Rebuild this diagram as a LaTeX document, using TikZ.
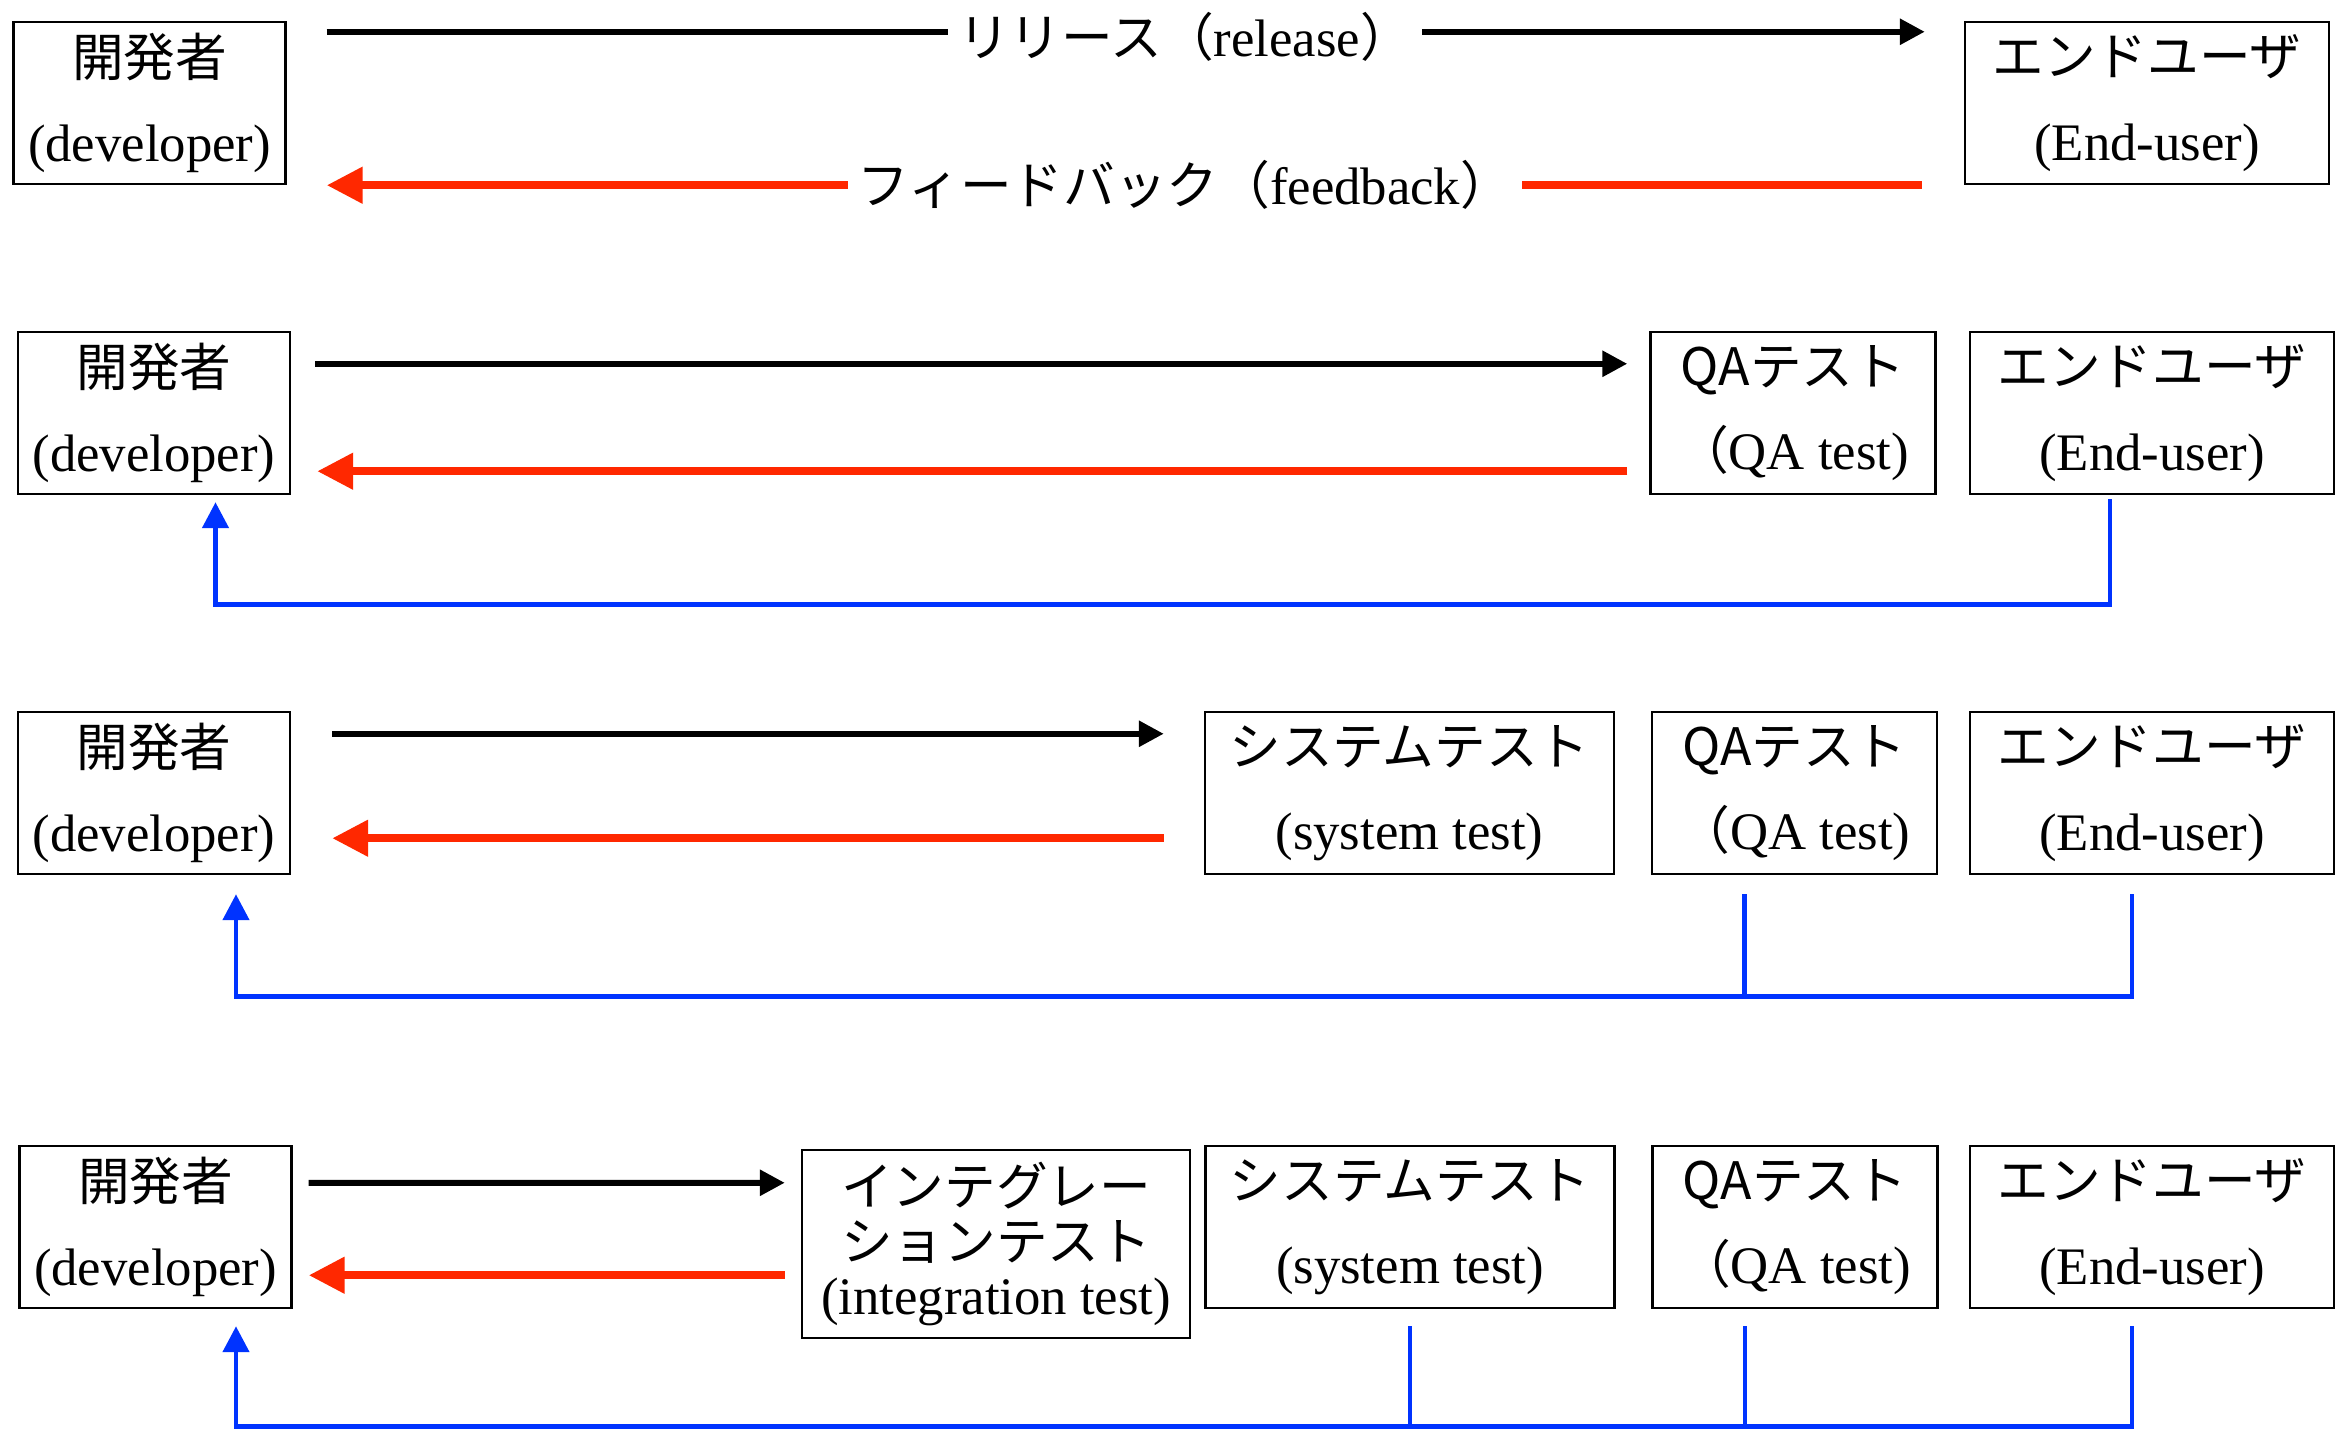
\documentclass[tikz,border=0pt]{standalone}
\usepackage{fontspec}
\setmainfont{Liberation Serif}
\newfontfamily\cjk[Scale=0.98]{Noto Sans CJK JP}
\usepackage{tikz}
\usetikzlibrary{arrows.meta}
\definecolor{fbred}{RGB}{255,40,0}
\definecolor{fbblue}{RGB}{0,51,255}

\begin{document}
\begin{tikzpicture}[
    box/.style={rectangle, draw, line width=0.7pt, inner sep=0pt, align=center, minimum height=1.62cm, font=\fontsize{15pt}{24pt}\selectfont},
    devbox/.style={box, minimum width=2.72cm},
    userbox/.style={box, minimum width=3.64cm},
    qabox/.style={box, minimum width=2.85cm},
    sysbox/.style={box, minimum width=4.09cm},
    intbox/.style={box, minimum width=3.88cm, minimum height=1.88cm, font=\fontsize{15pt}{15.6pt}\selectfont},
    release/.style={-{Triangle[length=2.5mm, width=2.5mm]}, line width=1.7pt},
    feedback/.style={-{Triangle[length=3.6mm, width=3.5mm]}, line width=2.3pt, color=fbred},
    userfb/.style={-{Triangle[length=2.6mm, width=2.6mm]}, line width=1.35pt, color=fbblue},
    branch/.style={line width=1.35pt, color=fbblue},
    lbl/.style={fill=white, inner xsep=1mm, inner ysep=0pt, font=\fontsize{15pt}{18pt}\selectfont}
]
    \useasboundingbox (0,0) rectangle (23.47,-14.29);

    % Row 1: developer <-> end user
    \node[devbox] (dev1) at (1.495,-1.03) {{\cjk 開発者}\\(developer)};
    \node[userbox] (eu1) at (21.47,-1.03) {{\cjk エンドユーザ}\\(End-user)};
    \draw[release] ([shift={(0.40,-0.11)}]dev1.north east) -- node[lbl, pos=0.537, yshift=-0.5mm, text=black]{{\cjk リリース（}release{\cjk ）}} ([shift={(-0.39,-0.11)}]eu1.north west);
    \draw[feedback] ([xshift=-4.2mm]eu1.south west) -- node[lbl, pos=0.462, text=black]{{\cjk フィードバック（}feedback{\cjk ）}} ([xshift=4mm]dev1.south east);

    % Row 2: QA test
    \node[devbox] (dev2) at (1.54,-4.13) {{\cjk 開発者}\\(developer)};
    \node[qabox] (qa2) at (17.93,-4.13) {{\cjk QAテスト}\\{\cjk （}QA test)};
    \node[userbox] (eu2) at (21.52,-4.13) {{\cjk エンドユーザ}\\(End-user)};
    \draw[release] ([shift={(0.24,-0.33)}]dev2.north east) -- ([shift={(-0.22,-0.33)}]qa2.north west);
    \draw[feedback] ([shift={(-0.22,0.24)}]qa2.south west) -- ([shift={(0.26,0.24)}]dev2.south east);
    \draw[userfb] ([shift={(-0.42,-0.04)}]eu2.south) -- ++(0,-1.05) -| ([shift={(0.615,-0.07)}]dev2.south);

    % Row 3: system test
    \node[devbox] (dev3) at (1.54,-7.93) {{\cjk 開発者}\\(developer)};
    \node[sysbox] (sys3) at (14.095,-7.93) {{\cjk システムテスト}\\(system test)};
    \node[qabox] (qa3) at (17.945,-7.93) {{\cjk QAテスト}\\{\cjk （}QA test)};
    \node[userbox] (eu3) at (21.52,-7.93) {{\cjk エンドユーザ}\\(End-user)};
    \draw[release] ([shift={(0.41,-0.23)}]dev3.north east) -- ([shift={(-0.40,-0.23)}]sys3.north west);
    \draw[feedback] ([shift={(-0.40,0.37)}]sys3.south west) -- ([shift={(0.41,0.37)}]dev3.south east);
    \draw[userfb] ([shift={(-0.20,-0.19)}]eu3.south) -- ++(0,-1.02) -| ([shift={(0.82,-0.19)}]dev3.south);
    \draw[branch] ([shift={(-0.50,-0.19)}]qa3.south) -- ++(0,-1.02);

    % Row 4: integration test
    \node[devbox] (dev4) at (1.555,-12.27) {{\cjk 開発者}\\(developer)};
    \node[intbox] (int4) at (9.96,-12.44) {{\cjk インテグレー}\\{\cjk ションテスト}\\(integration test)};
    \node[sysbox] (sys4) at (14.10,-12.27) {{\cjk システムテスト}\\(system test)};
    \node[qabox] (qa4) at (17.95,-12.27) {{\cjk QAテスト}\\{\cjk （}QA test)};
    \node[userbox] (eu4) at (21.52,-12.27) {{\cjk エンドユーザ}\\(End-user)};
    \draw[release] ([shift={(0.16,-0.38)}]dev4.north east) -- ([shift={(-0.16,-0.34)}]int4.north west);
    \draw[feedback] ([shift={(-0.16,0.64)}]int4.south west) -- ([shift={(0.16,0.34)}]dev4.south east);
    \draw[userfb] ([shift={(-0.20,-0.17)}]eu4.south) -- ++(0,-1.005) -| ([shift={(0.805,-0.17)}]dev4.south);
    \draw[branch] ([shift={(-0.50,-0.17)}]qa4.south) -- ++(0,-1.005);
    \draw[branch] ([yshift=-1.7mm]sys4.south) -- ++(0,-1.005);
\end{tikzpicture}
\end{document}
